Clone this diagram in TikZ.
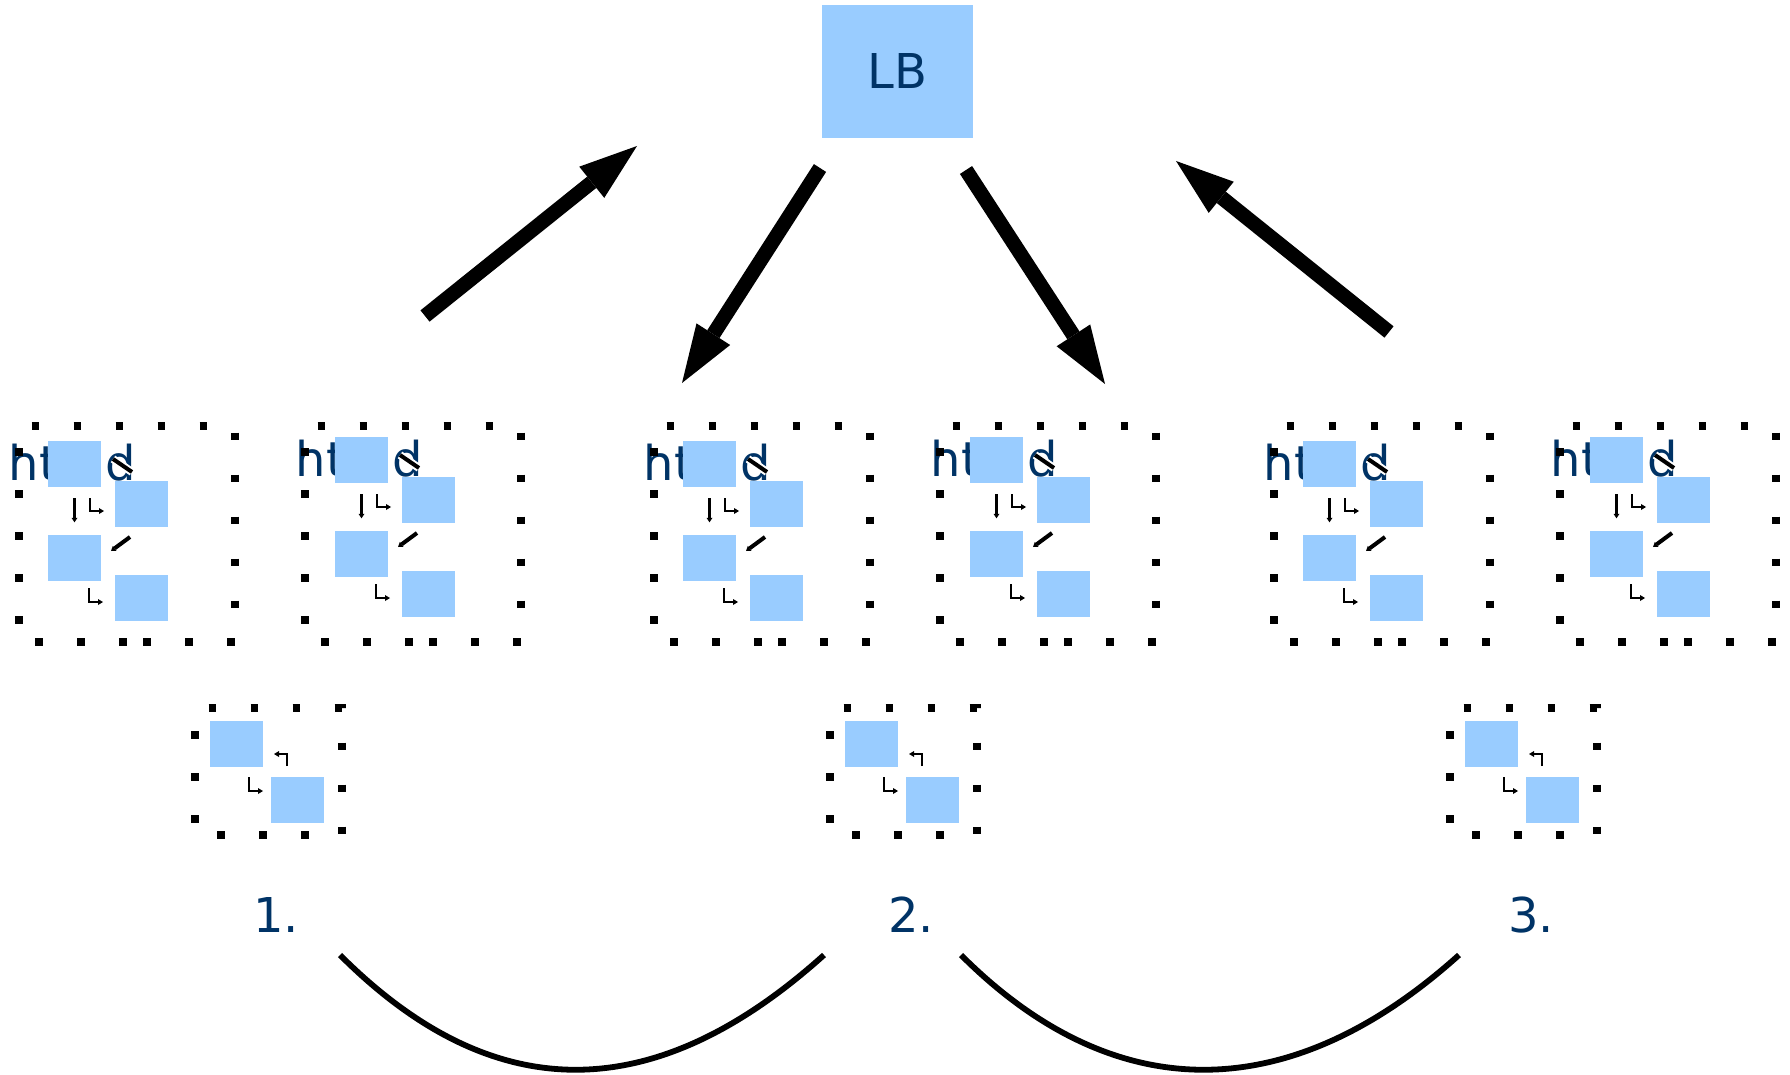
\documentclass[tikz,border=0pt]{standalone}
\usepackage{fontspec}
\setmainfont{DejaVu Sans}
\usetikzlibrary{arrows.meta}
\definecolor{lblue}{HTML}{99CCFF}
\definecolor{dblue}{HTML}{003366}
\tikzset{
  bx/.style={fill=lblue, draw=none, minimum width=53pt, minimum height=46pt, inner sep=0pt},
  lbl/.style={text=dblue, font=\fontsize{48pt}{58pt}\selectfont, inner sep=0pt},
  dotframe/.style={line width=7.5pt, dash pattern=on 7.5pt off 34.5pt},
  bigarr/.style={line width=14.5pt, -{Triangle[length=58pt,width=40pt,line width=0pt]}},
  elb/.style={line width=2.7pt, -{Triangle[length=5pt,width=6pt,line width=0pt]}},
  sarr/.style={line width=3.5pt, -{Triangle[length=4.5pt,width=6pt,line width=0pt]}},
  halo/.style={line width=4pt, preaction={draw=white, line width=8pt}},
  arcline/.style={line width=5.8pt},
  bigframe/.pic={
    \begin{scope}[shift={(#1)}]
      \node[lbl, anchor=base west] (t) at (-10.5,54) {ht\hspace{48pt}d};
      \node[bx] (A) at (55.5,38) {};
      \node[bx] (B) at (122.5,78) {};
      \node[bx] (C) at (55.5,131.5) {};
      \node[bx] (D) at (122.5,172) {};
    \end{scope}
    \draw[dotframe] (107.5,216) -- (0,216) -- (0,0) -- (216,0) -- (216,216) -- cycle;
    \begin{scope}[shift={(#1)}]
      \draw[sarr, shorten <=11pt, shorten >=12pt] (A) -- (C);
      \draw[elb] (71,72) |- (85,85);
      \draw[elb] (70,162) |- (84,176);
      \draw[halo] (94,33) -- (113,46);
      \draw[halo, -{Triangle[length=4.5pt,width=6pt,line width=0pt]}] (111,111) -- (92,125);
    \end{scope}
  },
  smallframe/.pic={
    \node[bx] (E) at (41.5,36) {};
    \node[bx] (F) at (102.5,92) {};
    \draw[dotframe, dash phase=28.5pt] (0,0) -- (147,0) -- (147,127) -- (0,127) -- cycle;
    \draw[elb] (92,58) |- (79,46);
    \draw[elb] (54,69) |- (68,83);
  }
}
\begin{document}
\begin{tikzpicture}[x=1pt, y=-1pt]
\useasboundingbox (0,0) rectangle (1790,1075);

% load balancer
\node[bx, lbl, minimum width=151pt, minimum height=133pt] (LB) at (897.5,71.5) {LB};

% frames
\pic (f1) at (19,426) {bigframe={0,0}};
\pic (f2) at (305,426) {bigframe={1,-4}};
\pic (f3) at (654,426) {bigframe={0,0}};
\pic (f4) at (940,426) {bigframe={1,-4}};
\pic (f5) at (1274,426) {bigframe={0,0}};
\pic (f6) at (1560,426) {bigframe={1,-4}};

\pic (s1) at (195,708) {smallframe};
\pic (s2) at (830,708) {smallframe};
\pic (s3) at (1450,708) {smallframe};

% step labels
\node[lbl, anchor=base] (n1) at (276,932) {1.};
\node[lbl, anchor=base] (n2) at (911,932) {2.};
\node[lbl, anchor=base] (n3) at (1531,932) {3.};

% big arrows
\coordinate (a1s) at (425,316); \coordinate (a1e) at (637,146);
\coordinate (a2s) at (820,168); \coordinate (a2e) at (682,383);
\coordinate (a3s) at (966,170); \coordinate (a3e) at (1105,384);
\coordinate (a4s) at (1389,332); \coordinate (a4e) at (1176,161);
\draw[bigarr] (a1s) -- (a1e);
\draw[bigarr] (a2s) -- (a2e);
\draw[bigarr] (a3s) -- (a3e);
\draw[bigarr] (a4s) -- (a4e);

% bottom arcs
\coordinate (c1s) at (340,955); \coordinate (c1e) at (824,955);
\coordinate (c2s) at (961,955); \coordinate (c2e) at (1459,955);
\draw[arcline] (c1s) .. controls (493,1108) and (654,1108) .. (c1e);
\draw[arcline] (c2s) .. controls (1114,1108) and (1289,1108) .. (c2e);
\end{tikzpicture}
\end{document}
